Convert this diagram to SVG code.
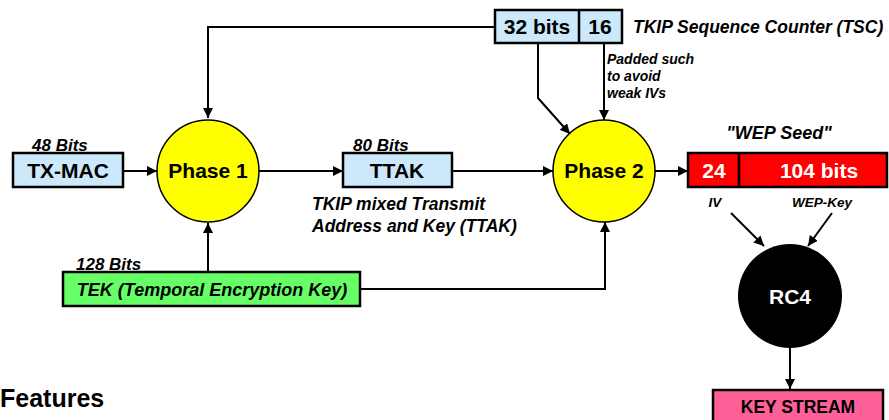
<svg xmlns="http://www.w3.org/2000/svg" width="889" height="420" viewBox="0 0 889 420">
<defs>
<marker id="ah" viewBox="0 0 10 10" refX="10" refY="5" markerWidth="10" markerHeight="10" markerUnits="userSpaceOnUse" orient="auto">
<path d="M0,0 L10,5 L0,10 z" fill="#000"/>
</marker>
<style>
text{font-family:"Liberation Sans",Arial,sans-serif;font-weight:bold}
.box{stroke:#000;stroke-width:2.5}
.blue{fill:#cce8fb}
.lbl{font-size:21px;text-anchor:middle}
.it{font-style:italic}
.conn line,.conn polyline{stroke:#000;stroke-width:2;fill:none}
</style>
</defs>
<rect width="889" height="420" fill="#fff"/>

<g class="conn">
<polyline points="495,27 208,27 208,118" marker-end="url(#ah)"/>
<line x1="123" y1="171" x2="157" y2="171" marker-end="url(#ah)"/>
<line x1="259" y1="171" x2="343" y2="171" marker-end="url(#ah)"/>
<line x1="452" y1="171" x2="553" y2="171" marker-end="url(#ah)"/>
<line x1="208" y1="272" x2="208" y2="223" marker-end="url(#ah)"/>
<polyline points="360,289 605,289 605,222" marker-end="url(#ah)"/>
<polyline points="538,43 538,98 570,134" marker-end="url(#ah)"/>
<line x1="604" y1="43" x2="604" y2="120" marker-end="url(#ah)"/>
<line x1="655" y1="171" x2="688" y2="171" marker-end="url(#ah)"/>
<line x1="731" y1="213" x2="764" y2="246" marker-end="url(#ah)"/>
<line x1="832" y1="213" x2="808" y2="246" marker-end="url(#ah)"/>
<line x1="790" y1="347" x2="790" y2="389" marker-end="url(#ah)"/>
</g>

<g id="tsc">
<rect class="box blue" x="495" y="10" width="127" height="33"/>
<line x1="579" y1="10" x2="579" y2="43" stroke="#000" stroke-width="2.5"/>
<text class="lbl" x="537" y="34">32 bits</text>
<text class="lbl" x="600" y="34">16</text>
<text class="it" x="633" y="33" font-size="17.5">TKIP Sequence Counter (TSC)</text>
<text class="it" x="607" y="64" font-size="14">Padded such</text>
<text class="it" x="607" y="81" font-size="14">to avoid</text>
<text class="it" x="607" y="98" font-size="14">weak IVs</text>
</g>

<g id="txmac">
<rect class="box blue" x="13" y="153" width="110" height="34"/>
<text class="lbl" x="68" y="178">TX-MAC</text>
<text class="it" x="32" y="151" font-size="17">48 Bits</text>
</g>

<g id="phase1">
<circle cx="208" cy="171" r="51" fill="#ffff00" stroke="#000" stroke-width="1.5"/>
<text class="lbl" x="208" y="178">Phase 1</text>
</g>

<g id="ttak">
<rect class="box blue" x="343" y="153" width="109" height="34"/>
<text class="lbl" x="397" y="178">TTAK</text>
<text class="it" x="353" y="151" font-size="17">80 Bits</text>
<text class="it" x="312" y="210" font-size="17.5">TKIP mixed Transmit</text>
<text class="it" x="312" y="232" font-size="17.5">Address and Key (TTAK)</text>
</g>

<g id="phase2">
<circle cx="604" cy="171" r="51" fill="#ffff00" stroke="#000" stroke-width="1.5"/>
<text class="lbl" x="604" y="178">Phase 2</text>
</g>

<g id="tek">
<rect class="box" x="63" y="272" width="297" height="34" fill="#66ff66"/>
<text class="it" x="212" y="296" font-size="18" text-anchor="middle">TEK (Temporal Encryption Key)</text>
<text class="it" x="76" y="270" font-size="17">128 Bits</text>
</g>

<g id="wepseed">
<text class="it" x="779" y="139" font-size="18" text-anchor="middle">"WEP Seed"</text>
<rect class="box" x="688" y="153" width="199" height="34" fill="#ff0000"/>
<line x1="739" y1="153" x2="739" y2="187" stroke="#000" stroke-width="2.5"/>
<text class="lbl" x="714" y="178" fill="#fff">24</text>
<text class="lbl" x="819" y="178" fill="#fff">104 bits</text>
<text class="it" x="715" y="207" font-size="13.5" text-anchor="middle">IV</text>
<text class="it" x="822" y="207" font-size="13.5" text-anchor="middle">WEP-Key</text>
</g>

<g id="rc4">
<circle cx="790" cy="296" r="52" fill="#000"/>
<text class="lbl" x="790" y="304" fill="#fff" font-size="22">RC4</text>
</g>

<g id="keystream">
<rect class="box" x="713" y="390" width="170" height="34" fill="#ff6099"/>
<text x="798" y="413" font-size="17.5" text-anchor="middle">KEY STREAM</text>
</g>

<text x="0" y="407" font-size="25">Features</text>
</svg>
